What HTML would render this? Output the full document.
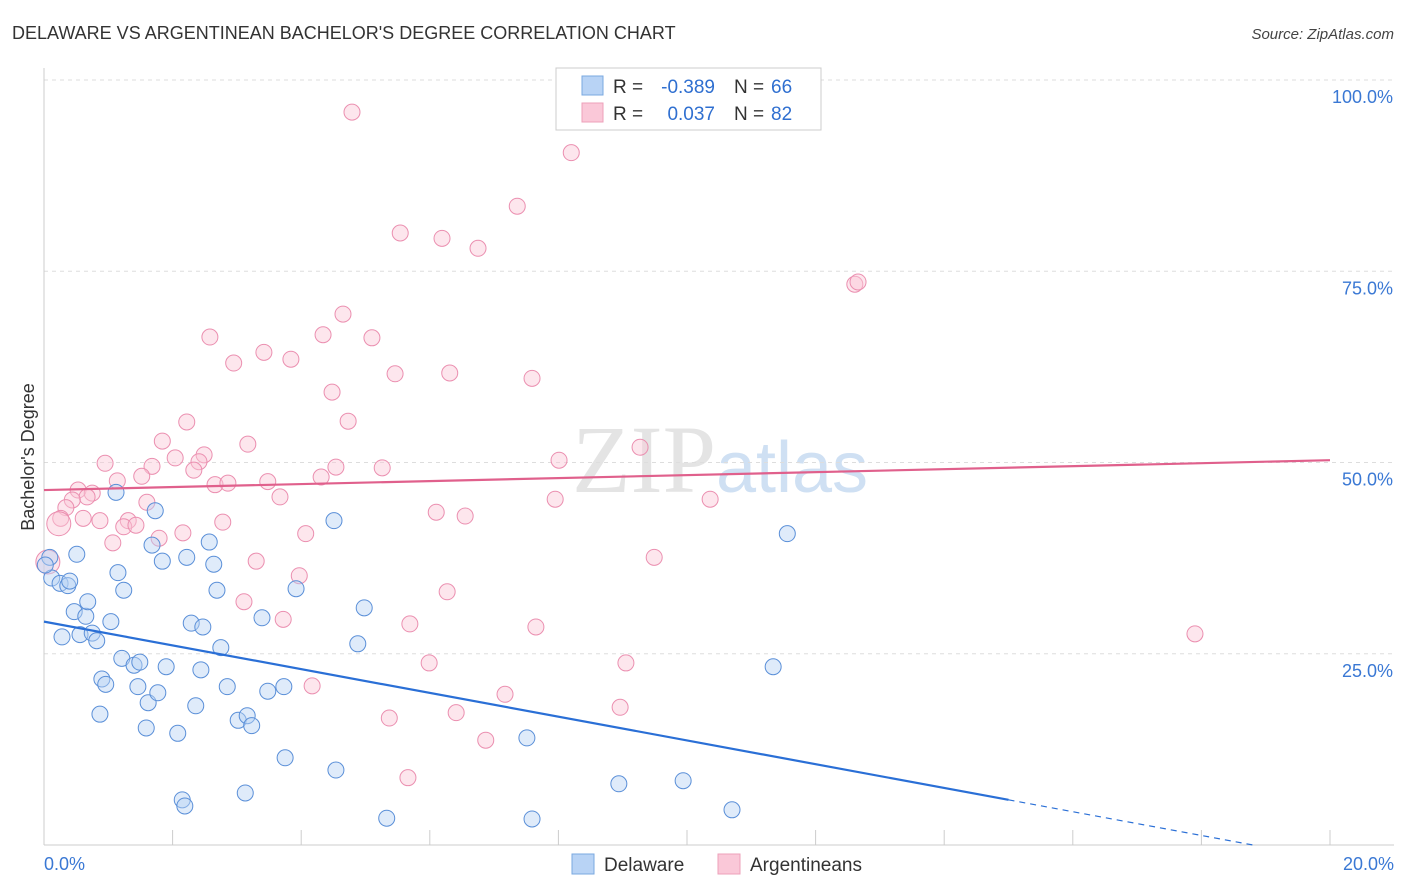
<!DOCTYPE html>
<html><head><meta charset="utf-8"><style>
body{margin:0;background:#fff;font-family:"Liberation Sans",sans-serif;}
svg{display:block}
</style></head><body>
<svg id="chart" width="1406" height="892" xmlns="http://www.w3.org/2000/svg" font-family="Liberation Sans, sans-serif">
<text x="12" y="39" font-size="18" fill="#333">DELAWARE VS ARGENTINEAN BACHELOR'S DEGREE CORRELATION CHART</text>
<text x="1394" y="39" font-size="15" fill="#444" text-anchor="end" font-style="italic">Source: ZipAtlas.com</text>
<text x="720" y="492" font-size="96" fill="#e4e4e4" text-anchor="middle" font-family="Liberation Serif, serif">ZIP<tspan fill="#cfe0f3" font-family="Liberation Sans, sans-serif" font-size="72">atlas</tspan></text>
<g id="grid"></g>
<g id="axes"></g>
<g id="marks"></g>
<text transform="translate(34,457) rotate(-90)" font-size="18" fill="#333" text-anchor="middle">Bachelor's Degree</text>
<g>
<rect x="556" y="68" width="265" height="62" fill="#fff" stroke="#ccc"/>
<rect x="582" y="76" width="21" height="19" fill="#b8d3f5" stroke="#7aa8e0"/>
<rect x="582" y="103" width="21" height="19" fill="#fac8d8" stroke="#eda0ba"/>
<text x="613" y="93" font-size="19" fill="#333">R =</text>
<text x="715" y="93" font-size="19" fill="#2f6fd0" text-anchor="end">-0.389</text>
<text x="734" y="93" font-size="19" fill="#333">N =</text>
<text x="771" y="93" font-size="19" fill="#2f6fd0">66</text>
<text x="613" y="120" font-size="19" fill="#333">R =</text>
<text x="715" y="120" font-size="19" fill="#2f6fd0" text-anchor="end">0.037</text>
<text x="734" y="120" font-size="19" fill="#333">N =</text>
<text x="771" y="120" font-size="19" fill="#2f6fd0">82</text>
</g>
<g>
<rect x="572" y="854" width="22" height="20" fill="#b8d3f5" stroke="#7aa8e0"/>
<text x="604" y="871" font-size="19" fill="#333">Delaware</text>
<rect x="718" y="854" width="22" height="20" fill="#fac8d8" stroke="#eda0ba"/>
<text x="750" y="871" font-size="19" fill="#333">Argentineans</text>
</g>
</svg>
<script>
const blueX=[0.09,0.12,0.25,0.37,0.40,0.51,0.28,0.47,0.56,0.65,0.68,0.75,0.82,0.87,0.90,0.96,1.04,1.12,1.15,1.24,1.21,1.40,1.46,1.49,1.59,1.62,1.68,1.73,1.77,1.84,1.90,2.08,2.15,2.19,2.22,2.29,2.36,2.44,2.47,2.57,2.64,2.69,2.75,2.85,3.02,3.13,3.16,3.23,3.39,3.48,3.73,3.75,3.92,4.51,4.54,4.88,4.98,5.33,7.51,7.59,8.94,9.94,10.70,11.34,11.56,0.02];
const blueY=[37.6,34.9,34.2,33.9,34.5,38.0,27.2,30.5,27.5,29.9,31.8,27.7,26.7,17.1,21.7,21.0,29.2,46.1,35.6,33.3,24.4,23.5,20.7,23.9,15.3,18.6,39.2,43.7,19.9,37.1,23.3,14.6,5.9,5.1,37.6,29.0,18.2,22.9,28.5,39.6,36.7,33.3,25.8,20.7,16.3,6.8,16.9,15.6,29.7,20.1,20.7,11.4,33.5,42.4,9.8,26.3,31.0,3.5,14.0,3.4,8.0,8.4,4.6,23.3,40.7,36.6];
const pinkX=[4.79,8.20,7.36,5.54,6.19,6.75,12.61,12.66,2.58,2.95,3.42,3.84,4.34,4.65,5.10,5.46,6.31,7.59,4.48,2.22,4.73,1.84,3.17,9.27,0.95,1.68,2.04,2.49,2.41,2.33,4.54,5.26,8.01,1.14,1.52,2.66,2.86,3.48,4.31,3.67,7.95,10.36,0.53,0.75,0.67,0.44,0.34,1.60,0.26,0.23,0.61,0.87,1.31,1.24,1.43,2.16,1.79,2.78,4.07,6.10,6.55,1.07,9.49,3.30,3.97,3.11,6.27,3.72,5.69,7.65,17.90,5.99,9.05,4.17,7.17,8.96,5.37,6.41,6.87,5.66,0.06];
const pinkY=[95.8,90.5,83.5,80.0,79.3,78.0,73.3,73.6,66.4,63.0,64.4,63.5,66.7,69.4,66.3,61.6,61.7,61.0,59.2,55.3,55.4,52.8,52.4,52.0,49.9,49.5,50.6,51.0,50.1,49.0,49.4,49.3,50.3,47.6,48.2,47.1,47.3,47.5,48.1,45.5,45.2,45.2,46.4,46.0,45.5,45.1,44.1,44.8,42.7,42.0,42.7,42.4,42.4,41.6,41.8,40.8,40.1,42.2,40.7,43.5,43.0,39.5,37.6,37.1,35.2,31.8,33.1,29.5,28.9,28.5,27.6,23.8,23.8,20.8,19.7,18.0,16.6,17.3,13.7,8.8,37.0];
const yTicks=[25,50,75,100];
const xTickLabels=["0.0%","20.0%"];
const blueTrend=[29.2,-1.553];
const pinkTrend=[46.4,0.195];
const NS="http://www.w3.org/2000/svg";
const sx=v=>44+v*64.3, sy=v=>845-v*7.65;
function mk(tag,attrs,parent){const e=document.createElementNS(NS,tag);for(const k in attrs)e.setAttribute(k,attrs[k]);parent.appendChild(e);return e;}
const grid=document.getElementById('grid'),axes=document.getElementById('axes'),marks=document.getElementById('marks');
yTicks.forEach(t=>{
 const l=mk('line',{x1:44,x2:1394,y1:sy(t),y2:sy(t),stroke:'#ddd','stroke-dasharray':'4,4'},grid);
 
 
 const tx=mk('text',{x:1393,y:sy(t)+23,'font-size':18,fill:'#3a78d4','text-anchor':'end'},axes);
 tx.textContent=t.toFixed(1)+'%';
 
 
});
const xa=mk('line',{x1:44,x2:1394,y1:845,y2:845,stroke:'#ccc'},axes);


const ya=mk('line',{x1:44,x2:44,y1:68,y2:845,stroke:'#ccc'},axes);


for(let i=1;i<=10;i++){const t=mk('line',{x1:sx(i*2),x2:sx(i*2),y1:830,y2:845,stroke:'#ccc'},axes);
 
 }
[[0,'start',44],[20,'end',1394]].forEach((a,i)=>{const t=mk('text',{x:a[2],y:870,'font-size':18,fill:'#3a78d4','text-anchor':a[1]},axes);t.textContent=xTickLabels[i];
 
 });
function pts(X,Y,fill,stroke,name,allowBig){X.forEach((x,i)=>{const big=allowBig&&(x<0.3&&(Y[i]>36.5&&Y[i]<42.5));
 const c=mk('circle',{cx:sx(x),cy:sy(Y[i]),r:big?12:8,fill:fill,'fill-opacity':0.45,stroke:stroke,'stroke-width':1},marks);
 
 });}
pts(pinkX,pinkY,'#fac8d8','#eb8fb0','argentineans-point',true);
pts(blueX,blueY,'#b8d3f5','#5a8fd8','delaware-point',false);
const bEnd=15,bZero=-blueTrend[0]/blueTrend[1];
const bl=mk('line',{x1:sx(0),y1:sy(blueTrend[0]),x2:sx(bEnd),y2:sy(blueTrend[0]+blueTrend[1]*bEnd),stroke:'#2a6fd6','stroke-width':2.2},marks);


const bd=mk('line',{x1:sx(bEnd),y1:sy(blueTrend[0]+blueTrend[1]*bEnd),x2:sx(bZero),y2:sy(0),stroke:'#2a6fd6','stroke-width':1.2,'stroke-dasharray':'6,5'},marks);


const pl=mk('line',{x1:sx(0),y1:sy(pinkTrend[0]),x2:sx(20),y2:sy(pinkTrend[0]+pinkTrend[1]*20),stroke:'#e0608c','stroke-width':2.2},marks);


</script>
</body></html>
